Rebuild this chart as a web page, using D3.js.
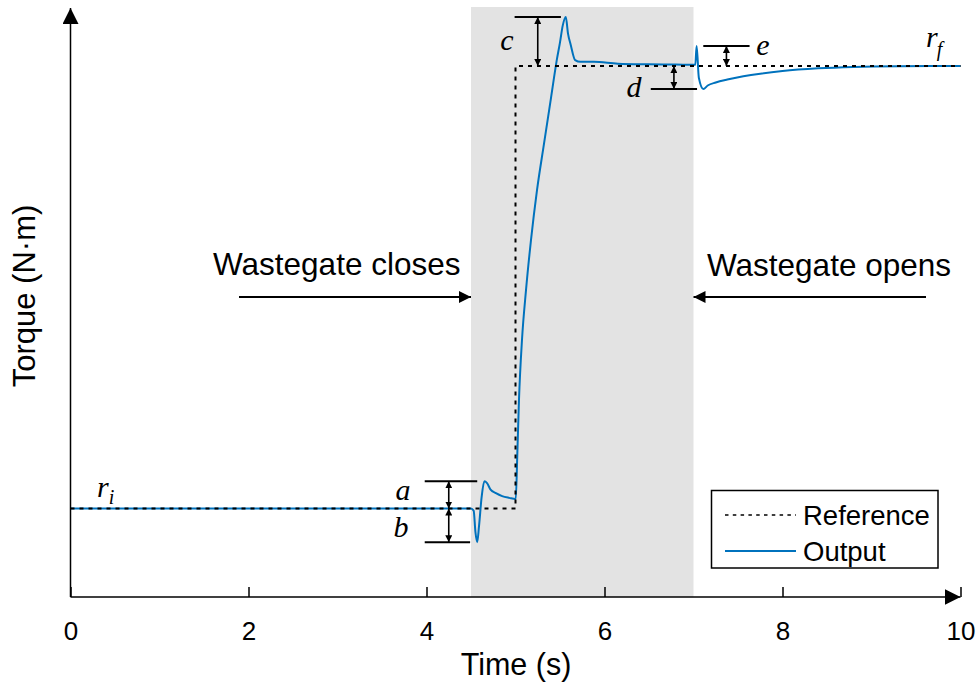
<!DOCTYPE html>
<html>
<head>
<meta charset="utf-8">
<script src="https://cdn.jsdelivr.net/npm/d3@7"></script>
<style>
  html, body { margin: 0; padding: 0; background: #fff; }
  svg { display: block; }
  .sans { font-family: Arial, "Liberation Sans", sans-serif; fill: #000; }
  .serif { font-family: "Times New Roman", "Liberation Serif", serif; font-style: italic; fill: #000; }
</style>
</head>
<body>
<svg id="chart" width="976" height="687"></svg>
<script>
// ---- data ----
const xTicks = [0, 2, 4, 6, 8, 10];

// reference torque step (time, torque)
const refTime  = [0, 5, 5, 10];
const refValue = [15, 15, 90, 90];

// measured output torque (time, torque)
const outTime = [0, 4.50, 4.53, 4.55, 4.57, 4.59, 4.62, 4.65, 4.68, 4.72, 4.78, 4.85, 4.93, 5.003,
                 5.02, 5.039, 5.073, 5.118, 5.174, 5.242, 5.320, 5.399, 5.466, 5.50, 5.53, 5.565,
                 5.59, 5.62, 5.67, 5.73, 5.88, 6.15, 6.50, 6.80, 7.02, 7.035, 7.06, 7.11, 7.16,
                 7.25, 7.38, 7.56, 7.75, 8.0, 8.4, 8.8, 9.3, 10];
const outValue = [15, 15, 14.6, 11, 9.3, 12, 17, 19.6, 19.3, 18.2, 17.6, 17.1, 16.8, 16.6,
                  24, 33.4, 43.6, 52.0, 60.5, 69.0, 76.8, 84.6, 91.2, 94.0, 96.8, 98.3,
                  95.5, 93.6, 91.0, 90.7, 90.7, 90.4, 90.3, 90.25, 90.2, 93.4, 88.0, 86.1, 86.7,
                  87.2, 87.7, 88.25, 88.7, 89.15, 89.6, 89.85, 89.97, 90];

// wastegate closed interval
const gateClose = 4.5, gateOpen = 7.0;

// overshoot / undershoot markers: label, level, line start, line end, arrow position
const markName  = ["a", "b", "c", "d", "e"];
const markLevel = [19.6, 9.3, 98.3, 86.1, 93.4];
const markBase  = [15, 15, 90, 90, 90];
const markFrom  = [3.98, 3.98, 4.99, 6.52, 7.11];
const markTo    = [4.57, 4.49, 5.51, 7.04, 7.63];
const markArrow = [4.25, 4.25, 5.25, 6.78, 7.37];

// ---- layout ----
const svg = d3.select("#chart");
const x = d3.scaleLinear().domain([0, 10]).range([70.5, 960.5]);
const y = d3.scaleLinear().domain([0, 100]).range([597, 7]);

const blue = "#0072BD";

// shaded wastegate-closed band
svg.append("rect")
  .attr("x", x(gateClose)).attr("y", y(100))
  .attr("width", x(gateOpen) - x(gateClose))
  .attr("height", y(0) - y(100))
  .attr("fill", "#e3e3e3");

// output line
const outData = outTime.map((t, i) => [t, outValue[i]]);
svg.append("path")
  .datum(outData)
  .attr("fill", "none")
  .attr("stroke", blue)
  .attr("stroke-width", 2)
  .attr("stroke-linejoin", "round")
  .attr("d", d3.line().x(d => x(d[0])).y(d => y(d[1])).curve(d3.curveMonotoneX));

// reference line (dotted, on top)
const refData = refTime.map((t, i) => [t, refValue[i]]);
svg.append("path")
  .datum(refData)
  .attr("fill", "none")
  .attr("stroke", "#000")
  .attr("stroke-width", 2)
  .attr("stroke-dasharray", "4,5")
  .attr("d", d3.line().x(d => x(d[0])).y(d => y(d[1])));

// arrowhead markers
const defs = svg.append("defs");
function arrowMarker(id, size) {
  defs.append("marker")
    .attr("id", id)
    .attr("viewBox", `0 0 ${size} ${size}`)
    .attr("refX", size).attr("refY", size / 2)
    .attr("markerWidth", size).attr("markerHeight", size)
    .attr("markerUnits", "userSpaceOnUse")
    .attr("orient", "auto-start-reverse")
    .append("path").attr("d", `M0,0 L${size},${size / 2} L0,${size} Z`).attr("fill", "#000");
}
arrowMarker("tri", 7);
arrowMarker("mid", 12);
arrowMarker("big", 16);

// overshoot markers
const marks = svg.append("g");
markName.forEach((name, i) => {
  marks.append("line")
    .attr("x1", x(markFrom[i])).attr("x2", x(markTo[i]))
    .attr("y1", y(markLevel[i])).attr("y2", y(markLevel[i]))
    .attr("stroke", "#000").attr("stroke-width", 2);
  marks.append("line")
    .attr("x1", x(markArrow[i])).attr("x2", x(markArrow[i]))
    .attr("y1", y(markLevel[i])).attr("y2", y(markBase[i]))
    .attr("stroke", "#000").attr("stroke-width", 1.6)
    .attr("marker-start", "url(#tri)")
    .attr("marker-end", "url(#tri)");
});

// marker letters
const letterPos = {
  a: [403, 500], b: [401, 537], c: [507, 50], d: [634, 97], e: [763, 55]
};
markName.forEach(name => {
  svg.append("text").attr("class", "serif")
    .attr("x", letterPos[name][0]).attr("y", letterPos[name][1])
    .attr("text-anchor", "middle")
    .style("font-size", "30px")
    .text(name);
});

// r_i and r_f
const ri = svg.append("text").attr("class", "serif")
  .attr("x", 97).attr("y", y(refValue[0]) - 12).style("font-size", "30px");
ri.append("tspan").text("r");
ri.append("tspan").attr("dy", 7).style("font-size", "20px").text("i");

const rf = svg.append("text").attr("class", "serif")
  .attr("x", 926).attr("y", y(refValue[3]) - 19).style("font-size", "30px");
rf.append("tspan").text("r");
rf.append("tspan").attr("dy", 9).attr("dx", -1).style("font-size", "20px").text("f");

// x axis with upward ticks
const xAxis = d3.axisBottom(x).tickValues(xTicks).tickSizeInner(-10).tickSizeOuter(0)
  .tickFormat(d3.format("d"));
const gx = svg.append("g").attr("transform", `translate(0,${y(0)})`).call(xAxis);
gx.select(".domain").remove();
gx.selectAll(".tick line").attr("stroke", "#000").attr("stroke-width", 1.5);
gx.selectAll(".tick text")
  .attr("class", "sans")
  .attr("dy", null)
  .attr("y", 43)
  .style("font-size", "26px")
  .style("font-family", "Arial, 'Liberation Sans', sans-serif")
  .attr("fill", "#000");

// axis lines with arrow heads
svg.append("line")
  .attr("x1", x(0)).attr("x2", x(10)).attr("y1", y(0)).attr("y2", y(0))
  .attr("stroke", "#000").attr("stroke-width", 1.5)
  .attr("marker-end", "url(#big)");
svg.append("line")
  .attr("x1", x(0)).attr("x2", x(0)).attr("y1", y(0)).attr("y2", 8)
  .attr("stroke", "#000").attr("stroke-width", 1.5)
  .attr("marker-end", "url(#big)");

// axis titles
svg.append("text").attr("class", "sans")
  .attr("x", 516).attr("y", 675)
  .attr("text-anchor", "middle")
  .style("font-size", "30.5px")
  .text("Time (s)");
svg.append("text").attr("class", "sans")
  .attr("transform", "translate(35,296) rotate(-90)")
  .attr("text-anchor", "middle")
  .style("font-size", "31px")
  .text("Torque (N·m)");

// wastegate annotations
svg.append("text").attr("class", "sans")
  .attr("x", 213).attr("y", 275)
  .style("font-size", "31.5px")
  .text("Wastegate closes");
svg.append("line")
  .attr("x1", 239).attr("x2", x(gateClose))
  .attr("y1", 297).attr("y2", 297)
  .attr("stroke", "#000").attr("stroke-width", 2)
  .attr("marker-end", "url(#mid)");

svg.append("text").attr("class", "sans")
  .attr("x", 707).attr("y", 276)
  .style("font-size", "31.5px")
  .text("Wastegate opens");
svg.append("line")
  .attr("x1", 926).attr("x2", x(gateOpen))
  .attr("y1", 297).attr("y2", 297)
  .attr("stroke", "#000").attr("stroke-width", 2)
  .attr("marker-end", "url(#mid)");

// legend
const lg = svg.append("g");
lg.append("rect")
  .attr("x", 711.5).attr("y", 490.5).attr("width", 226.5).attr("height", 77.5)
  .attr("fill", "#fff").attr("stroke", "#000").attr("stroke-width", 1.5);
lg.append("line")
  .attr("x1", 725).attr("x2", 796).attr("y1", 515).attr("y2", 515)
  .attr("stroke", "#000").attr("stroke-width", 1.6).attr("stroke-dasharray", "3.5,4.3");
lg.append("text").attr("class", "sans")
  .attr("x", 803).attr("y", 525).style("font-size", "27.5px").text("Reference");
lg.append("line")
  .attr("x1", 725).attr("x2", 796).attr("y1", 551).attr("y2", 551)
  .attr("stroke", blue).attr("stroke-width", 2);
lg.append("text").attr("class", "sans")
  .attr("x", 803).attr("y", 561).style("font-size", "27.5px").text("Output");
</script>
</body>
</html>
